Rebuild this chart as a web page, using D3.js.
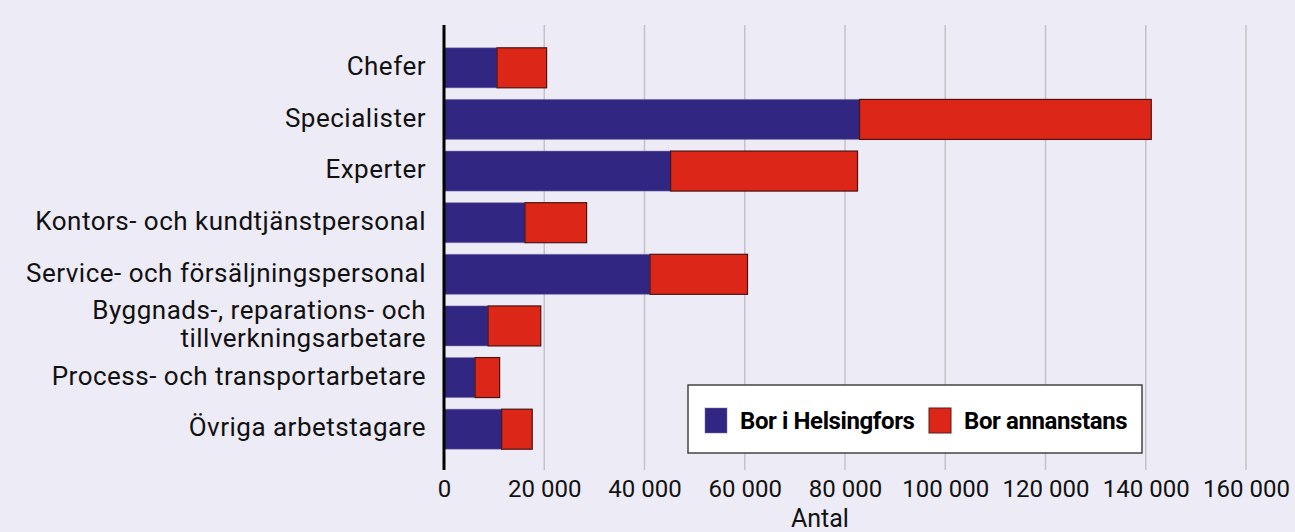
<!DOCTYPE html>
<html>
<head>
<meta charset="utf-8">
<script src="https://cdn.jsdelivr.net/npm/d3@7"></script>
<style>
  body { margin: 0; background: #edebf5; }
  svg { display: block; font-family: Roboto, sans-serif; }
</style>
</head>
<body>
<div id="chart"></div>
<script>
var svgWidth = 1295;
var svgHeight = 532;

var margin = { top: 25, right: 49, bottom: 62, left: 444 };
var width = svgWidth - margin.left - margin.right;
var height = svgHeight - margin.top - margin.bottom;

// data
var categories = [
  ["Chefer"],
  ["Specialister"],
  ["Experter"],
  ["Kontors- och kundtjänstpersonal"],
  ["Service- och försäljningspersonal"],
  ["Byggnads-, reparations- och", "tillverkningsarbetare"],
  ["Process- och transportarbetare"],
  ["Övriga arbetstagare"]
];
var borHelsingfors = [10570, 82900, 45200, 16150, 41100, 8800, 6200, 11500];
var borAnnanstans = [9900, 58200, 37300, 12300, 19450, 10500, 4900, 6100];
var seriesNames = ["Bor i Helsingfors", "Bor annanstans"];
var seriesColors = ["#312783", "#dc2617"];
var xTicks = [0, 20000, 40000, 60000, 80000, 100000, 120000, 140000, 160000];

var svg = d3.select("#chart")
  .append("svg")
  .attr("width", svgWidth)
  .attr("height", svgHeight);

svg.append("rect")
  .attr("width", svgWidth)
  .attr("height", svgHeight)
  .attr("fill", "#edebf5");

var chartGroup = svg.append("g")
  .attr("transform", `translate(${margin.left}, ${margin.top})`);

var keys = categories.map(d => d.join(" "));

var xScale = d3.scaleLinear()
  .domain([0, 160000])
  .range([0, width]);

var yScale = d3.scaleBand()
  .domain(keys)
  .range([17, 430])
  .paddingInner(0.225)
  .paddingOuter(0.1125);

var locale = d3.formatLocale({ decimal: ",", thousands: "\u00a0", grouping: [3], currency: ["", ""] });
var fmt = locale.format(",d");

// gridlines
chartGroup.append("g")
  .selectAll("line")
  .data(xTicks.slice(1))
  .enter()
  .append("line")
  .attr("x1", d => xScale(d))
  .attr("x2", d => xScale(d))
  .attr("y1", 0)
  .attr("y2", height)
  .attr("stroke", "#c4c2c9")
  .attr("stroke-width", 1.5);

// x axis labels
var bottomAxis = d3.axisBottom(xScale)
  .tickValues(xTicks)
  .tickFormat(fmt)
  .tickSize(0)
  .tickPadding(10);

var xAxis = chartGroup.append("g")
  .attr("transform", `translate(0, ${height})`)
  .call(bottomAxis);
xAxis.select(".domain").remove();
xAxis.selectAll("text")
  .attr("font-size", 24)
  .attr("font-family", "Roboto, sans-serif")
  .attr("fill", "#111");

chartGroup.append("text")
  .attr("x", xScale(75000))
  .attr("y", height + 57)
  .attr("text-anchor", "middle")
  .attr("font-size", 25)
  .attr("fill", "#111")
  .text("Antal");

// stacked bars
var rows = keys.map((k, i) => ({ key: k, a: borHelsingfors[i], b: borAnnanstans[i] }));

chartGroup.append("g")
  .selectAll("rect")
  .data(rows)
  .enter()
  .append("rect")
  .attr("x", xScale(0))
  .attr("y", d => yScale(d.key))
  .attr("width", d => xScale(d.a) - xScale(0))
  .attr("height", yScale.bandwidth())
  .attr("fill", seriesColors[0])
  .attr("stroke", "rgba(120,110,160,0.45)")
  .attr("stroke-width", 1);

chartGroup.append("g")
  .selectAll("rect")
  .data(rows)
  .enter()
  .append("rect")
  .attr("x", d => xScale(d.a))
  .attr("y", d => yScale(d.key))
  .attr("width", d => xScale(d.a + d.b) - xScale(d.a))
  .attr("height", yScale.bandwidth())
  .attr("fill", seriesColors[1])
  .attr("stroke", "#4a1414")
  .attr("stroke-width", 1.2);

// y axis line
chartGroup.append("line")
  .attr("x1", 0)
  .attr("x2", 0)
  .attr("y1", 0)
  .attr("y2", height)
  .attr("stroke", "#000")
  .attr("stroke-width", 3);

// category labels
var labels = chartGroup.append("g")
  .selectAll("text")
  .data(categories)
  .enter()
  .append("text")
  .attr("x", -18)
  .attr("y", (d, i) => yScale(keys[i]) + yScale.bandwidth() / 2)
  .attr("text-anchor", "end")
  .attr("font-size", 26)
  .attr("fill", "#111")
  .attr("letter-spacing", 0.5);

labels.selectAll("tspan")
  .data(d => d.map((line, j) => ({ line: line, j: j, n: d.length })))
  .enter()
  .append("tspan")
  .attr("x", -18)
  .attr("dy", d => d.j === 0 ? (0.28 - (d.n - 1) * 0.54) + "em" : "1.08em")
  .text(d => d.line);

// legend
var legend = svg.append("g")
  .attr("transform", "translate(688, 385)");

legend.append("rect")
  .attr("width", 454)
  .attr("height", 68)
  .attr("fill", "#fff")
  .attr("stroke", "#444")
  .attr("stroke-width", 1.5);

var legendX = [17, 241];
seriesNames.forEach(function (name, i) {
  legend.append("rect")
    .attr("x", legendX[i])
    .attr("y", 23)
    .attr("width", 22)
    .attr("height", 25)
    .attr("fill", seriesColors[i])
    .attr("stroke", i === 0 ? "rgba(120,110,160,0.5)" : "#5a1a1a")
    .attr("stroke-width", 1);
  legend.append("text")
    .attr("x", legendX[i] + 35)
    .attr("y", 44)
    .attr("font-size", 24)
    .attr("font-weight", "bold")
    .attr("fill", "#000")
    .attr("letter-spacing", -0.4)
    .text(name);
});
</script>
</body>
</html>
